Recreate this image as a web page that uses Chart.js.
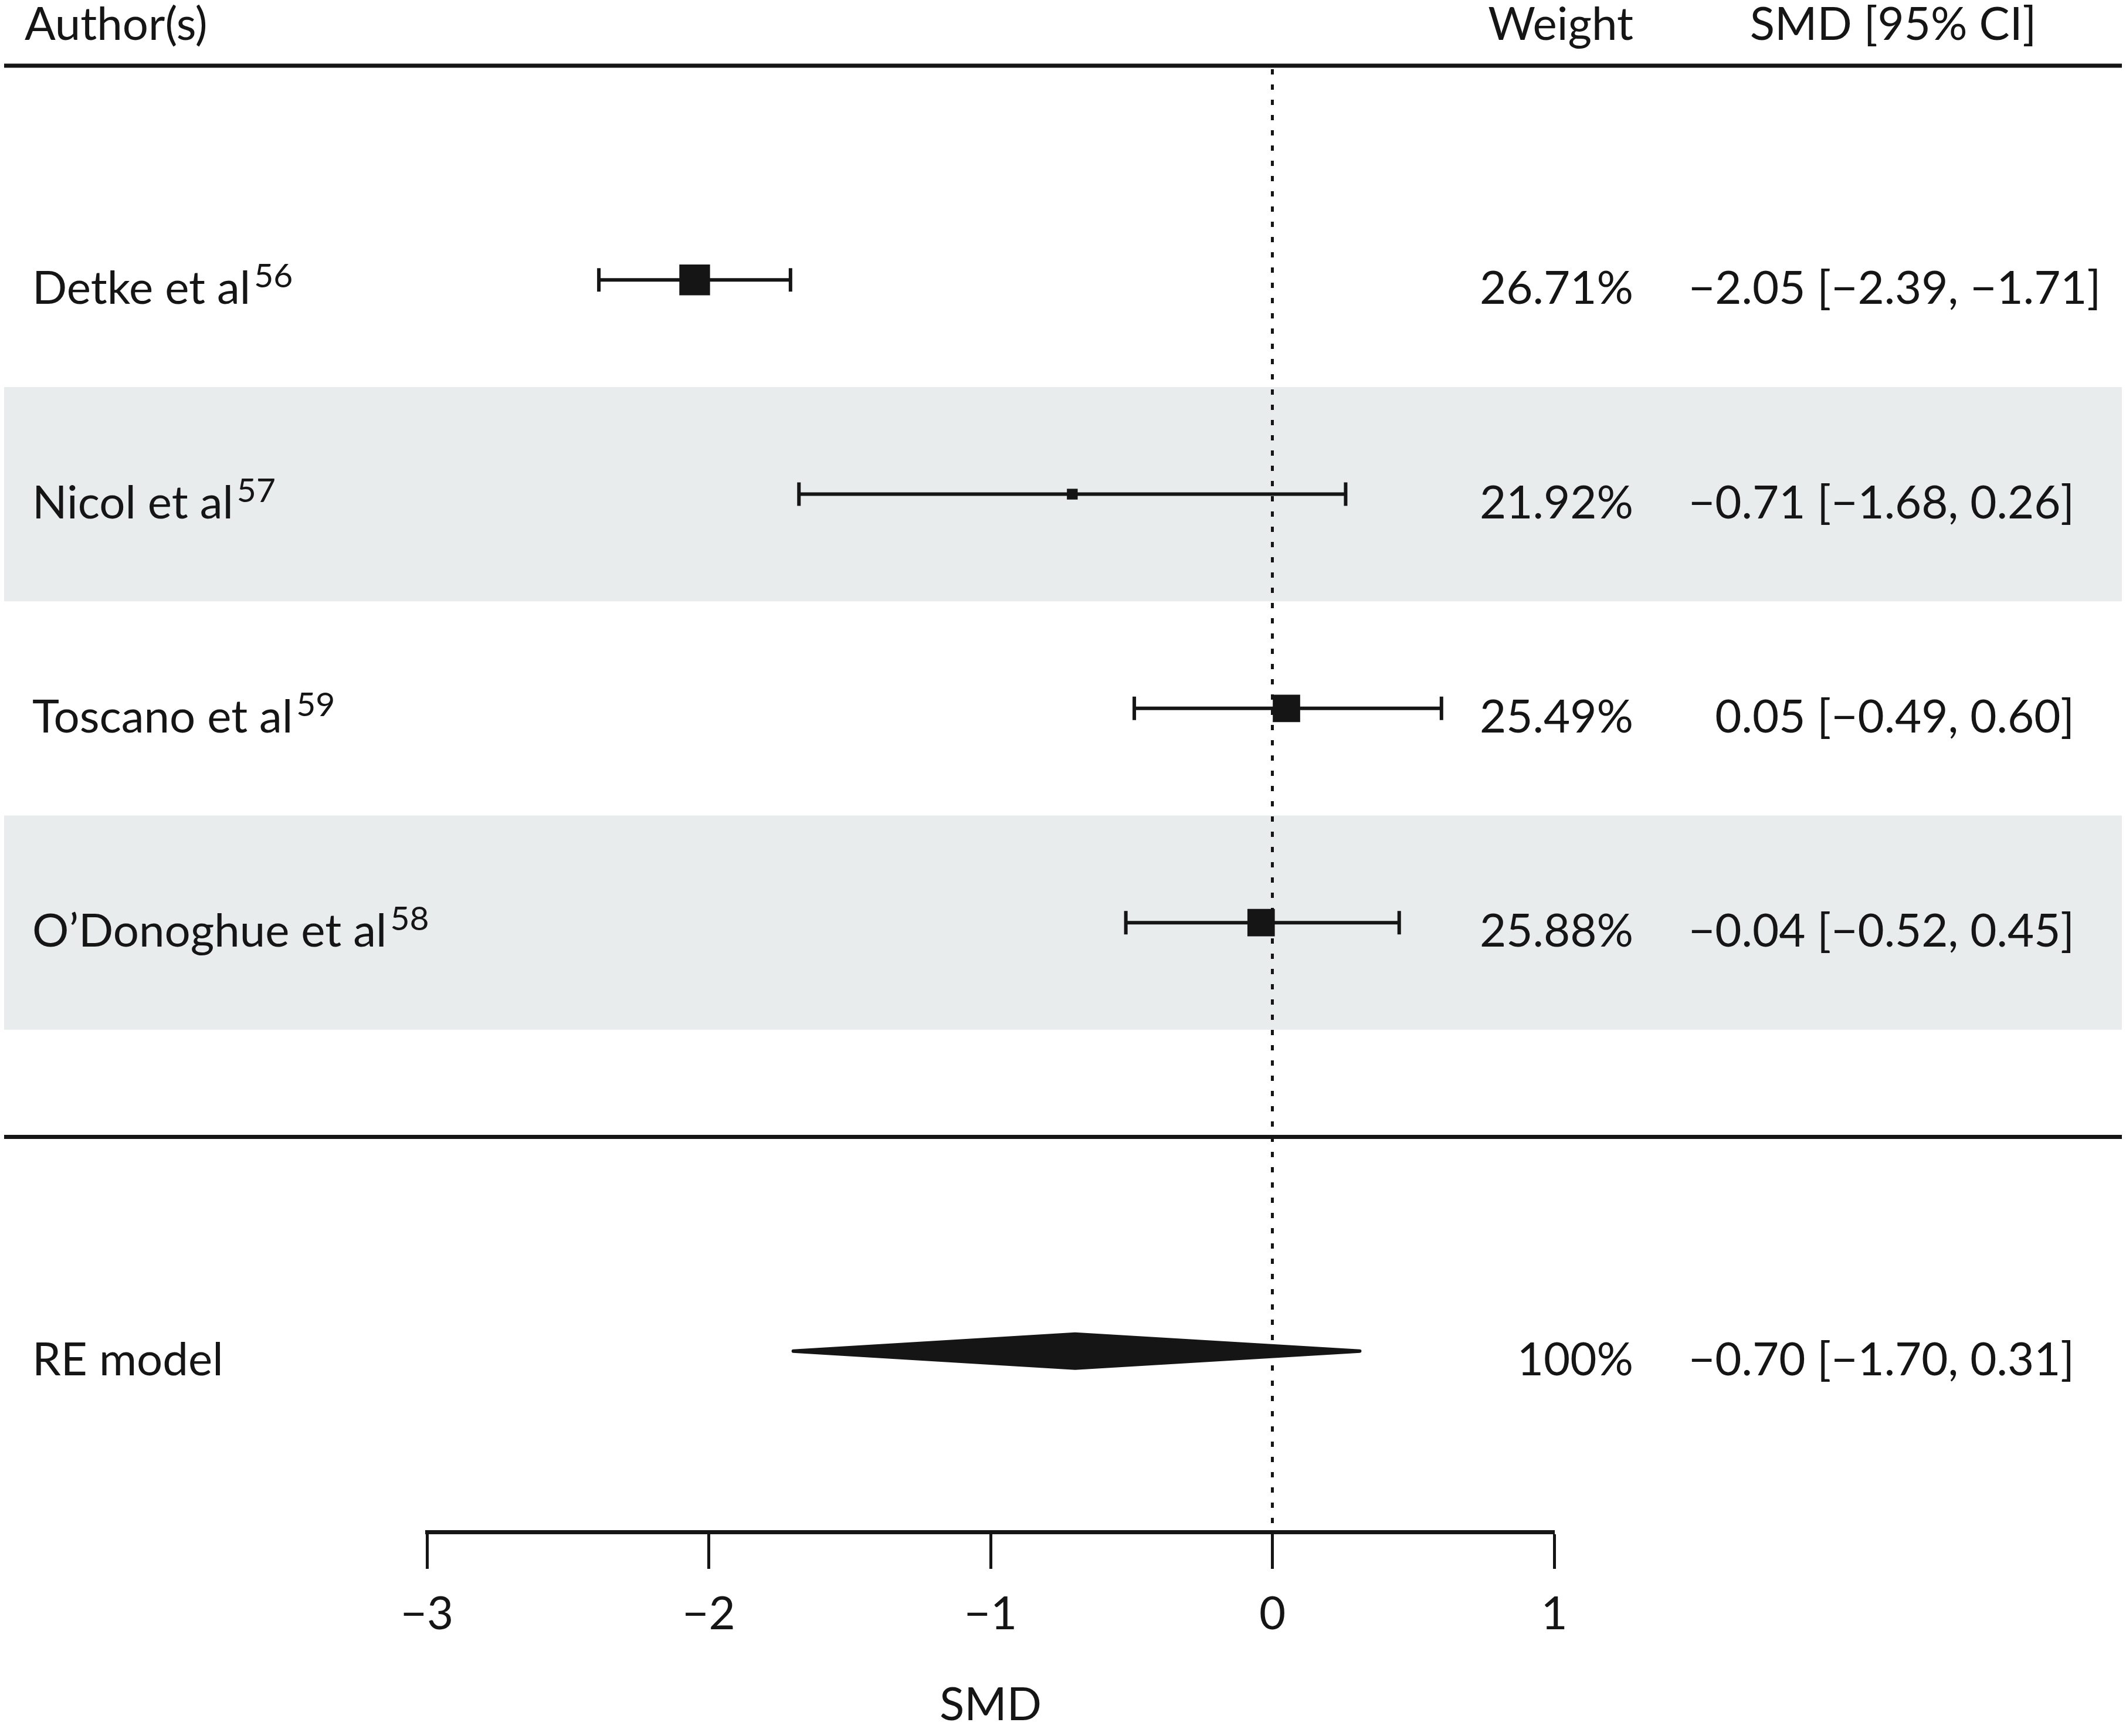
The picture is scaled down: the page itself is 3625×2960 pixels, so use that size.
<!DOCTYPE html>
<html>
<head>
<meta charset="utf-8">
<script src="https://cdn.jsdelivr.net/npm/chart.js@4.4.0/dist/chart.umd.min.js"></script>
<style>
  html, body { margin: 0; padding: 0; background: #fff; }
  canvas { display: block; }
</style>
</head>
<body>
<canvas id="forest" width="3625" height="2960"></canvas>
<script>
// study rows
const authors = ['Detke et al', 'Nicol et al', 'Toscano et al', 'O\u2019Donoghue et al'];
const refs = ['56', '57', '59', '58'];
const smd = [-2.05, -0.71, 0.05, -0.04];
const ciLow = [-2.39, -1.68, -0.49, -0.52];
const ciHigh = [-1.71, 0.26, 0.60, 0.45];
const weights = [26.71, 21.92, 25.49, 25.88];

// pooled random-effects estimate
const reLabel = 'RE model';
const reWeight = 100;
const reEst = -0.70;
const reLow = -1.70;
const reHigh = 0.31;

// x axis
const xTicks = [-3, -2, -1, 0, 1];
const tickLabels = ['\u22123', '\u22122', '\u22121', '0', '1'];

const INK = '#151515';
const BAND = '#e9eced';
const FONT = 'Lato, "Liberation Sans", sans-serif';
const RE_ROW = authors.length + 2;

function fmt(v) {
  return (v < 0 ? '\u2212' : '') + Math.abs(v).toFixed(2);
}

const forestPlugin = {
  id: 'forest',
  beforeDraw(chart) {
    const {ctx, width, height} = chart;
    const y = chart.scales.y;
    ctx.save();
    ctx.fillStyle = '#fff';
    ctx.fillRect(0, 0, width, height);
    // shaded alternate rows
    ctx.fillStyle = BAND;
    authors.forEach((a, i) => {
      if (i % 2 === 1) {
        const top = y.getPixelForValue(i + 0.5);
        const bot = y.getPixelForValue(i + 1.5);
        ctx.fillRect(7, top, width - 14, bot - top);
      }
    });
    ctx.restore();
  },
  beforeDatasetsDraw(chart) {
    const {ctx, width} = chart;
    const {x, y} = chart.scales;
    ctx.save();
    ctx.strokeStyle = INK;

    // header and summary separators
    ctx.lineWidth = 7;
    [0, authors.length + 1].forEach(r => {
      const py = y.getPixelForValue(r);
      ctx.beginPath();
      ctx.moveTo(7, py);
      ctx.lineTo(width - 7, py);
      ctx.stroke();
    });

    // line of no effect
    const x0 = x.getPixelForValue(0);
    ctx.lineWidth = 5;
    ctx.setLineDash([9, 17]);
    ctx.beginPath();
    ctx.moveTo(x0, y.getPixelForValue(0) + 6);
    ctx.lineTo(x0, chart.chartArea.bottom);
    ctx.stroke();
    ctx.setLineDash([]);

    // confidence intervals
    ctx.lineWidth = 6;
    smd.forEach((v, i) => {
      const py = y.getPixelForValue(i + 1);
      const xl = x.getPixelForValue(ciLow[i]);
      const xh = x.getPixelForValue(ciHigh[i]);
      ctx.beginPath();
      ctx.moveTo(xl, py);
      ctx.lineTo(xh, py);
      ctx.moveTo(xl, py - 20);
      ctx.lineTo(xl, py + 20);
      ctx.moveTo(xh, py - 20);
      ctx.lineTo(xh, py + 20);
      ctx.stroke();
    });
    ctx.restore();
  },
  afterDatasetsDraw(chart) {
    const {ctx} = chart;
    const {x, y} = chart.scales;
    const py = y.getPixelForValue(RE_ROW);
    ctx.save();
    ctx.fillStyle = INK;
    ctx.strokeStyle = INK;
    ctx.lineWidth = 6;
    ctx.lineJoin = 'round';
    ctx.beginPath();
    ctx.moveTo(x.getPixelForValue(reLow), py);
    ctx.lineTo(x.getPixelForValue(reEst), py - 29);
    ctx.lineTo(x.getPixelForValue(reHigh), py);
    ctx.lineTo(x.getPixelForValue(reEst), py + 29);
    ctx.closePath();
    ctx.fill();
    ctx.stroke();
    ctx.restore();
  },
  afterDraw(chart) {
    const {ctx} = chart;
    const y = chart.scales.y;
    const mainFont = '78px ' + FONT;
    const supFont = '57px ' + FONT;
    ctx.save();
    ctx.fillStyle = INK;
    ctx.textBaseline = 'alphabetic';
    ctx.font = mainFont;

    // column headers
    const hy = y.getPixelForValue(0) - 44;
    ctx.textAlign = 'left';
    ctx.fillText('Author(s)', 42, hy);
    ctx.textAlign = 'right';
    ctx.fillText('Weight', 2785, hy);
    ctx.textAlign = 'center';
    ctx.fillText('SMD [95% CI]', 3228, hy);

    const minusW = ctx.measureText('\u2212').width;

    const row = (label, sup, w, est, lo, hi, r) => {
      const by = y.getPixelForValue(r) + 41;
      ctx.font = mainFont;
      ctx.textAlign = 'left';
      ctx.fillText(label, 55, by);
      if (sup) {
        const lw = ctx.measureText(label).width;
        ctx.font = supFont;
        ctx.fillText(sup, 55 + lw + 6, by - 28);
        ctx.font = mainFont;
      }
      ctx.textAlign = 'right';
      ctx.fillText(w + '%', 2785, by);
      ctx.textAlign = 'left';
      const ci = fmt(est) + ' [' + fmt(lo) + ', ' + fmt(hi) + ']';
      ctx.fillText(ci, 2879 + (est < 0 ? 0 : minusW), by);
    };

    authors.forEach((a, i) => {
      row(a, refs[i], weights[i].toFixed(2), smd[i], ciLow[i], ciHigh[i], i + 1);
    });
    row(reLabel, '', String(reWeight), reEst, reLow, reHigh, RE_ROW);
    ctx.restore();
  }
};

new Chart(document.getElementById('forest'), {
  type: 'scatter',
  data: {
    datasets: [{
      data: smd.map((v, i) => ({x: v, y: i + 1})),
      pointStyle: 'rect',
      pointRadius: [37, 13, 33, 33],
      pointHoverRadius: [37, 13, 33, 33],
      backgroundColor: INK,
      borderColor: INK,
      borderWidth: 0
    }]
  },
  options: {
    responsive: false,
    devicePixelRatio: 1,
    animation: false,
    events: [],
    layout: {
      padding: {left: 728, right: 975, top: 112, bottom: 0}
    },
    plugins: {
      legend: {display: false},
      tooltip: {enabled: false}
    },
    scales: {
      x: {
        type: 'linear',
        position: 'bottom',
        min: xTicks[0],
        max: xTicks[xTicks.length - 1],
        afterBuildTicks(scale) {
          scale.ticks = xTicks.map(v => ({value: v}));
        },
        afterFit(scale) {
          scale.height = 348;
        },
        ticks: {
          color: INK,
          font: {family: FONT, size: 78},
          padding: 31,
          maxRotation: 0,
          callback: (v) => tickLabels[xTicks.indexOf(v)]
        },
        grid: {
          drawOnChartArea: false,
          drawTicks: true,
          tickLength: 63,
          tickWidth: 5,
          tickColor: INK
        },
        border: {display: true, color: INK, width: 7},
        title: {
          display: true,
          text: 'SMD',
          color: INK,
          font: {family: FONT, size: 78},
          padding: {top: 0, bottom: 5}
        }
      },
      y: {
        type: 'linear',
        display: false,
        reverse: true,
        min: 0,
        max: 6.844
      }
    }
  },
  plugins: [forestPlugin]
});
</script>
</body>
</html>
